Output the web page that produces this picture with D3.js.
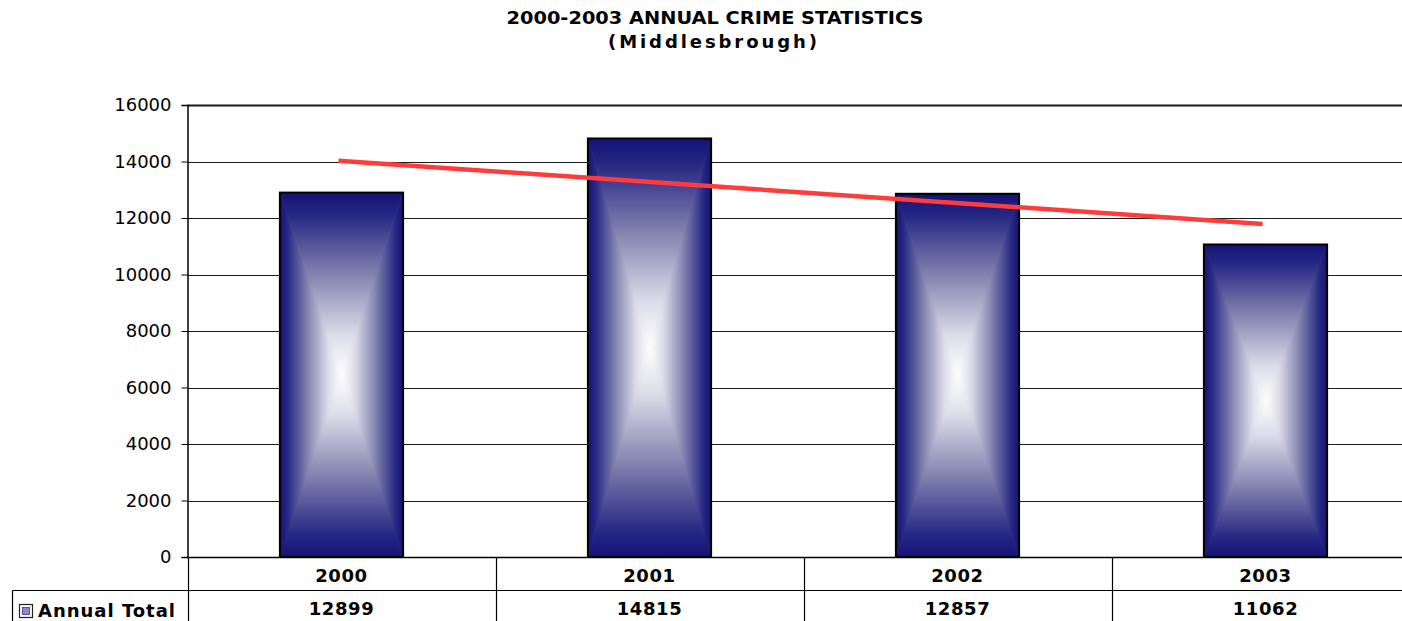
<!DOCTYPE html>
<html>
<head>
<meta charset="utf-8">
<script src="https://cdn.jsdelivr.net/npm/d3@7"></script>
<style>
  html, body { margin: 0; padding: 0; background: #fff; }
  svg { display: block; }
  text { font-family: "DejaVu Sans", Verdana, sans-serif; fill: #000; }
</style>
</head>
<body>
<svg id="chart" width="1402" height="621"></svg>
<script>
// ---- data ----
const categories = ["2000", "2001", "2002", "2003"];
const annualTotal = [12899, 14815, 12857, 11062];
const yTicks = [0, 2000, 4000, 6000, 8000, 10000, 12000, 14000, 16000];
const trendCategories = ["2000", "2003"];
const trendValues = [14029, 11788];
const seriesName = "Annual Total";
const titleLines = ["2000-2003 ANNUAL CRIME STATISTICS", "(Middlesbrough)"];

// ---- layout ----
const W = 1402, H = 621;
const plotLeft = 187.5, plotRight = 1419.5, plotTop = 105, plotBottom = 557;
const headerRowY = 590.5, tableLeft = 12.5;

const svg = d3.select("#chart");
const defs = svg.append("defs");

const x = d3.scaleBand().domain(categories).range([plotLeft, plotRight]).padding(0);
const y = d3.scaleLinear().domain([0, 16000]).range([plotBottom, plotTop]);
const barW = x.bandwidth() * 0.40;

// gradients (box "from center" gradient, made of four triangles)
const stops = [[0, "#131377"], [0.12, "#262683"], [0.45, "#8383b0"], [0.78, "#dcdce9"], [1, "#ffffff"]];
function grad(id, x1, y1, x2, y2) {
  const g = defs.append("linearGradient").attr("id", id)
    .attr("x1", x1).attr("y1", y1).attr("x2", x2).attr("y2", y2);
  stops.forEach(s => g.append("stop").attr("offset", s[0]).attr("stop-color", s[1]));
}
grad("gTop", 0, 0, 0, 1);
grad("gBottom", 0, 1, 0, 0);
grad("gLeft", 0, 0, 1, 0);
grad("gRight", 1, 0, 0, 0);

// title
svg.append("text").attr("x", 715).attr("y", 24).attr("text-anchor", "middle")
  .attr("font-size", 18).attr("font-weight", "bold")
  .attr("textLength", 417).attr("lengthAdjust", "spacingAndGlyphs").text(titleLines[0]);
svg.append("text").attr("x", 712.5).attr("y", 48).attr("text-anchor", "middle")
  .attr("font-size", 18).attr("font-weight", "bold")
  .attr("textLength", 209).attr("lengthAdjust", "spacing").text(titleLines[1]);

// gridlines
svg.append("g").selectAll("line").data(yTicks.filter(d => d > 0)).join("line")
  .attr("x1", plotLeft).attr("x2", plotRight)
  .attr("y1", d => Math.round(y(d)) + 0.5).attr("y2", d => Math.round(y(d)) + 0.5)
  .attr("stroke", "#1a1a1a").attr("stroke-width", d => d === 16000 ? 2 : 1);

// y axis
const yAxis = d3.axisLeft(y).tickValues(yTicks).tickSize(6).tickPadding(10).tickFormat(d3.format("d"));
const gy = svg.append("g").attr("transform", `translate(${plotLeft},0)`).call(yAxis);
gy.select(".domain").attr("stroke", "#000").attr("stroke-width", 1.5);
gy.selectAll(".tick line").attr("stroke", "#000");
gy.selectAll(".tick text").attr("font-size", 18).attr("font-family", "DejaVu Sans, sans-serif").attr("fill", "#000");

// bars
const bars = svg.append("g").selectAll("g").data(categories).join("g");
bars.each(function(c, i) {
  const g = d3.select(this);
  const cx = x(c) + x.bandwidth() / 2;
  const x0 = cx - barW / 2, x1 = cx + barW / 2;
  const y0 = y(annualTotal[i]), y1 = y(0);
  const cy = (y0 + y1) / 2;
  g.append("rect").attr("x", x0).attr("y", y0).attr("width", barW).attr("height", y1 - y0).attr("fill", "#8080b0");
  const tri = (pts, fill) => g.append("polygon").attr("points", pts.map(p => p.join(",")).join(" "))
    .attr("fill", fill).attr("stroke", fill).attr("stroke-width", 0.6);
  tri([[x0, y0], [x1, y0], [cx, cy]], "url(#gTop)");
  tri([[x0, y1], [x1, y1], [cx, cy]], "url(#gBottom)");
  tri([[x0, y0], [x0, y1], [cx, cy]], "url(#gLeft)");
  tri([[x1, y0], [x1, y1], [cx, cy]], "url(#gRight)");
  g.append("rect").attr("x", x0).attr("y", y0).attr("width", barW).attr("height", y1 - y0)
    .attr("fill", "none").attr("stroke", "#000").attr("stroke-width", 2);
});

// trend line
const line = d3.line().x(d => x(d[0]) + x.bandwidth() / 2 - 3).y(d => y(d[1]));
svg.append("path").datum(trendCategories.map((c, i) => [c, trendValues[i]]))
  .attr("d", line).attr("fill", "none").attr("stroke", "#ff3b3b").attr("stroke-width", 4.5);

// x axis baseline
svg.append("line").attr("x1", plotLeft).attr("x2", W).attr("y1", plotBottom + 0.5).attr("y2", plotBottom + 0.5)
  .attr("stroke", "#000").attr("stroke-width", 1.5);

// data table
const tbl = svg.append("g");
tbl.append("line").attr("x1", tableLeft).attr("x2", W).attr("y1", headerRowY).attr("y2", headerRowY)
  .attr("stroke", "#000").attr("stroke-width", 1.2);
tbl.append("line").attr("x1", tableLeft).attr("x2", tableLeft).attr("y1", headerRowY).attr("y2", H)
  .attr("stroke", "#000").attr("stroke-width", 1.2);
tbl.selectAll("line.v").data(categories).join("line").attr("class", "v")
  .attr("x1", d => Math.round(x(d)) + 0.5).attr("x2", d => Math.round(x(d)) + 0.5)
  .attr("y1", plotBottom).attr("y2", H).attr("stroke", "#000").attr("stroke-width", 1.2);

tbl.selectAll("text.cat").data(categories).join("text").attr("class", "cat")
  .attr("x", d => x(d) + x.bandwidth() / 2).attr("y", 582)
  .attr("text-anchor", "middle").attr("font-size", 18).attr("font-weight", "bold")
  .attr("letter-spacing", 0.6).text(d => d);
tbl.selectAll("text.val").data(annualTotal).join("text").attr("class", "val")
  .attr("x", (d, i) => x(categories[i]) + x.bandwidth() / 2).attr("y", 615)
  .attr("text-anchor", "middle").attr("font-size", 18).attr("font-weight", "bold")
  .attr("letter-spacing", 0.6).text(d => d);

// legend key
tbl.append("rect").attr("x", 19.5).attr("y", 604.5).attr("width", 13).attr("height", 13)
  .attr("fill", "#ffffff").attr("stroke", "#222").attr("stroke-width", 1.2);
tbl.append("rect").attr("x", 22.5).attr("y", 607.5).attr("width", 7).attr("height", 7)
  .attr("fill", "#8a8ac8").attr("stroke", "#3a3a90").attr("stroke-width", 0.8);
tbl.append("text").attr("x", 38).attr("y", 617).attr("font-size", 18).attr("font-weight", "bold")
  .attr("textLength", 137).attr("lengthAdjust", "spacing").text(seriesName);
</script>
</body>
</html>
